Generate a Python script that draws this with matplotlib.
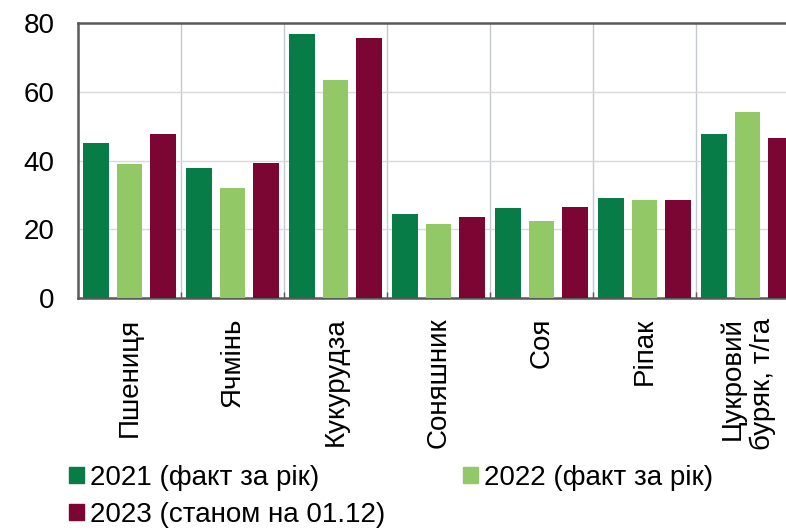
import numpy as np
import matplotlib.pyplot as plt
from matplotlib.patches import Patch

plt.rcParams['font.family'] = ['Liberation Sans', 'DejaVu Sans']

crops = ['Пшениця', 'Ячмінь', 'Кукурудза', 'Соняшник', 'Соя', 'Ріпак',
         'Цукровий\nбуряк, т/га']
y2021 = [45.2, 37.8, 76.7, 24.4, 26.2, 29.1, 47.6]
y2022 = [39.1, 32.0, 63.4, 21.4, 22.5, 28.6, 54.0]
y2023 = [47.7, 39.3, 75.6, 23.6, 26.5, 28.6, 46.6]

labels = ['2021 (факт за рік)', '2022 (факт за рік)', '2023 (станом на 01.12)']
colors = ['#077C46', '#92C865', '#7B0533']

fig = plt.figure(figsize=(7.86, 5.30), dpi=100)
ax = fig.add_axes([0.0992, 0.4377, 0.9174, 0.5189])

x = np.arange(len(crops))
w = 0.25
off = 0.325
ax.bar(x - off, y2021, w, color=colors[0], zorder=3)
ax.bar(x, y2022, w, color=colors[1], zorder=3)
ax.bar(x + off, y2023, w, color=colors[2], zorder=3)

ax.set_xlim(-0.5, len(crops) - 0.5)
ax.set_ylim(0, 80)
ax.set_yticks([0, 20, 40, 60, 80])
ax.tick_params(axis='y', length=0, pad=17, labelsize=20)

ax.set_xticks(x)
ax.set_xticklabels(crops, rotation=90, va='top', ha='center',
                   multialignment='right', fontsize=20)
ax.tick_params(axis='x', which='major', length=0, pad=14)
ax.set_xticks(np.arange(0.5, len(crops) - 0.5, 1), minor=True)
ax.tick_params(axis='x', which='minor', direction='in', length=4,
               color='#595959', width=1)

for b in np.arange(0.5, len(crops) - 0.5, 1):
    ax.axvline(b, color='#C3C9CE', lw=1, zorder=1)
for g in [20, 40, 60]:
    ax.axhline(g, color='#D9D9D9', lw=1, zorder=1)

for s in ['left', 'top', 'bottom', 'right']:
    ax.spines[s].set_color('#595959')
    ax.spines[s].set_linewidth(1.8)

handles = [Patch(color=colors[0]), Patch(color=colors[2]), Patch(color=colors[1])]
leg_labels = [labels[0], labels[2], labels[1]]
fig.legend(handles, leg_labels, ncol=2, loc='upper left',
           bbox_to_anchor=(0.088, 0.123), frameon=False, fontsize=20,
           handlelength=0.55, handleheight=0.55, handletextpad=0.2,
           columnspacing=2.8, labelspacing=0.4, borderpad=0, borderaxespad=0)

fig.savefig('out.png', dpi=100)
